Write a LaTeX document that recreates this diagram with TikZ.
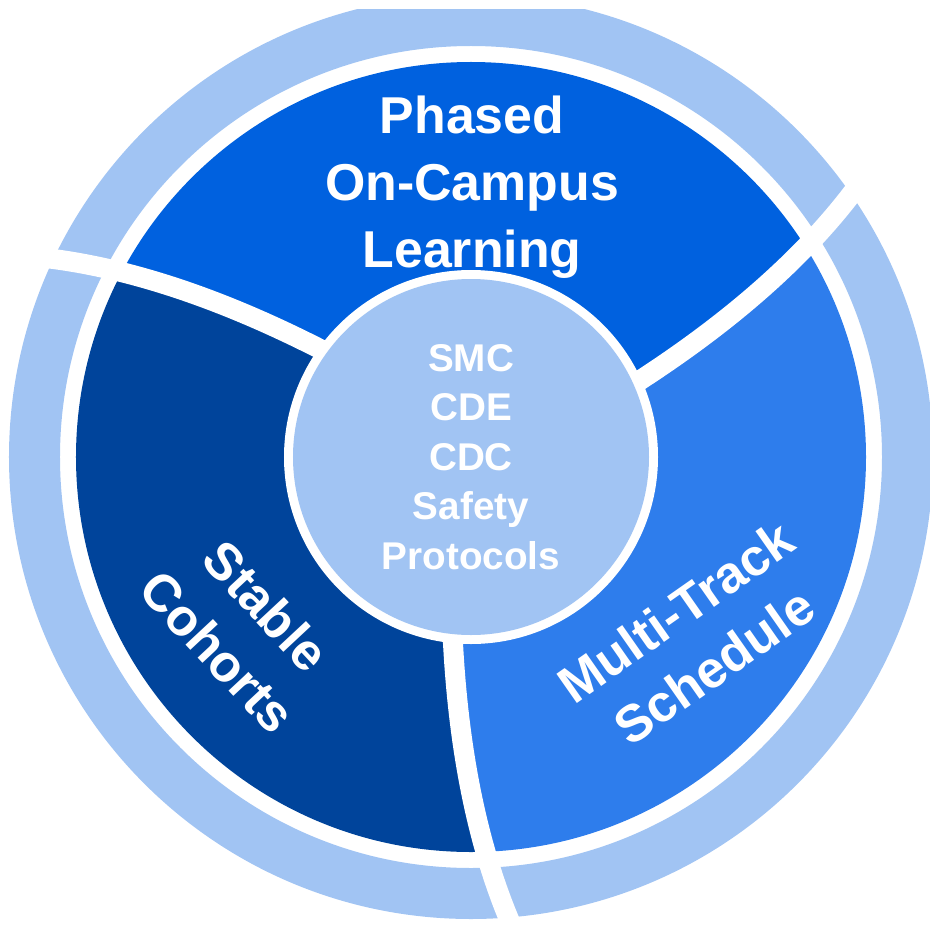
\documentclass[tikz,border=0pt]{standalone}
\usepackage{fontspec}
\setsansfont{Liberation Sans}
\usepackage{xcolor}
\usepackage{tikz}
\definecolor{whTop}{HTML}{0061DF}
\definecolor{whDeep}{HTML}{00449B}
\definecolor{whBright}{HTML}{2E7DEC}
\definecolor{whPale}{HTML}{A1C4F3}
\tikzset{
  wh diagram/.style={font=\sffamily\bfseries, text=white},
  wh ring/.style={fill=whPale, even odd rule},
  wh gap/.style={draw=white, line width=0.4cm},
  wh label/.style={align=center, inner sep=0pt,
    font=\sffamily\bfseries\fontsize{29.5}{38}\selectfont},
  wh core/.style={circle, fill=whPale, minimum size=7.12cm, inner sep=0pt,
    align=center, font=\sffamily\bfseries\fontsize{22}{28.2}\selectfont}
}

\begin{document}
\begin{tikzpicture}[wh diagram]
\useasboundingbox (-9.42,-9.36) rectangle (9.18,9.14);
\clip (-9.42,-9.36) rectangle (9.18,8.94);
\fill[wh ring] (0,0) circle (9.24) circle (8.22);
% one swept divider, turned three times
\foreach \a [count=\i] in {0,120,240} {
  \begin{scope}[rotate=\a]
    \coordinate (d\i-0) at (2.92,1.23);
    \coordinate (d\i-1) at (3.42,1.56);
    \coordinate (d\i-a) at (5.46,2.89);
    \coordinate (d\i-b) at (6.99,4.30);
    \coordinate (d\i-2) at (8.00,5.80);
    \coordinate (d\i-far) at (90:20);
  \end{scope}
}
\begin{scope}
  \clip (0,0) circle (7.9);
  \fill[whTop] (0,0) -- (d1-0) -- (d1-1) .. controls (d1-a) and (d1-b) .. (d1-2)
    -- (d1-far) -- (d2-2) .. controls (d2-b) and (d2-a) .. (d2-1) -- (d2-0) -- cycle;
  \fill[whDeep] (0,0) -- (d2-0) -- (d2-1) .. controls (d2-a) and (d2-b) .. (d2-2)
    -- (d2-far) -- (d3-2) .. controls (d3-b) and (d3-a) .. (d3-1) -- (d3-0) -- cycle;
  \fill[whBright] (0,0) -- (d3-0) -- (d3-1) .. controls (d3-a) and (d3-b) .. (d3-2)
    -- (d3-far) -- (d1-2) .. controls (d1-b) and (d1-a) .. (d1-1) -- (d1-0) -- cycle;
\end{scope}
\foreach \i in {1,2,3}
  \draw[wh gap] (d\i-0) -- (d\i-1) .. controls (d\i-a) and (d\i-b) .. (d\i-2);
\fill[white] (0,0) circle (3.74);
\node[wh core] (core) at (0,0) {SMC\\CDE\\CDC\\Safety\\Protocols};
\node[wh label] (phased) at (0.02,5.40) {Phased\\On-Campus\\Learning};
\node[wh label, rotate=-47] (stable) at (-4.58,-3.44) {Stable\\Cohorts};
\node[wh label, rotate=35] (multi) at (4.48,-3.64) {Multi-Track\\Schedule};
\end{tikzpicture}
\end{document}
